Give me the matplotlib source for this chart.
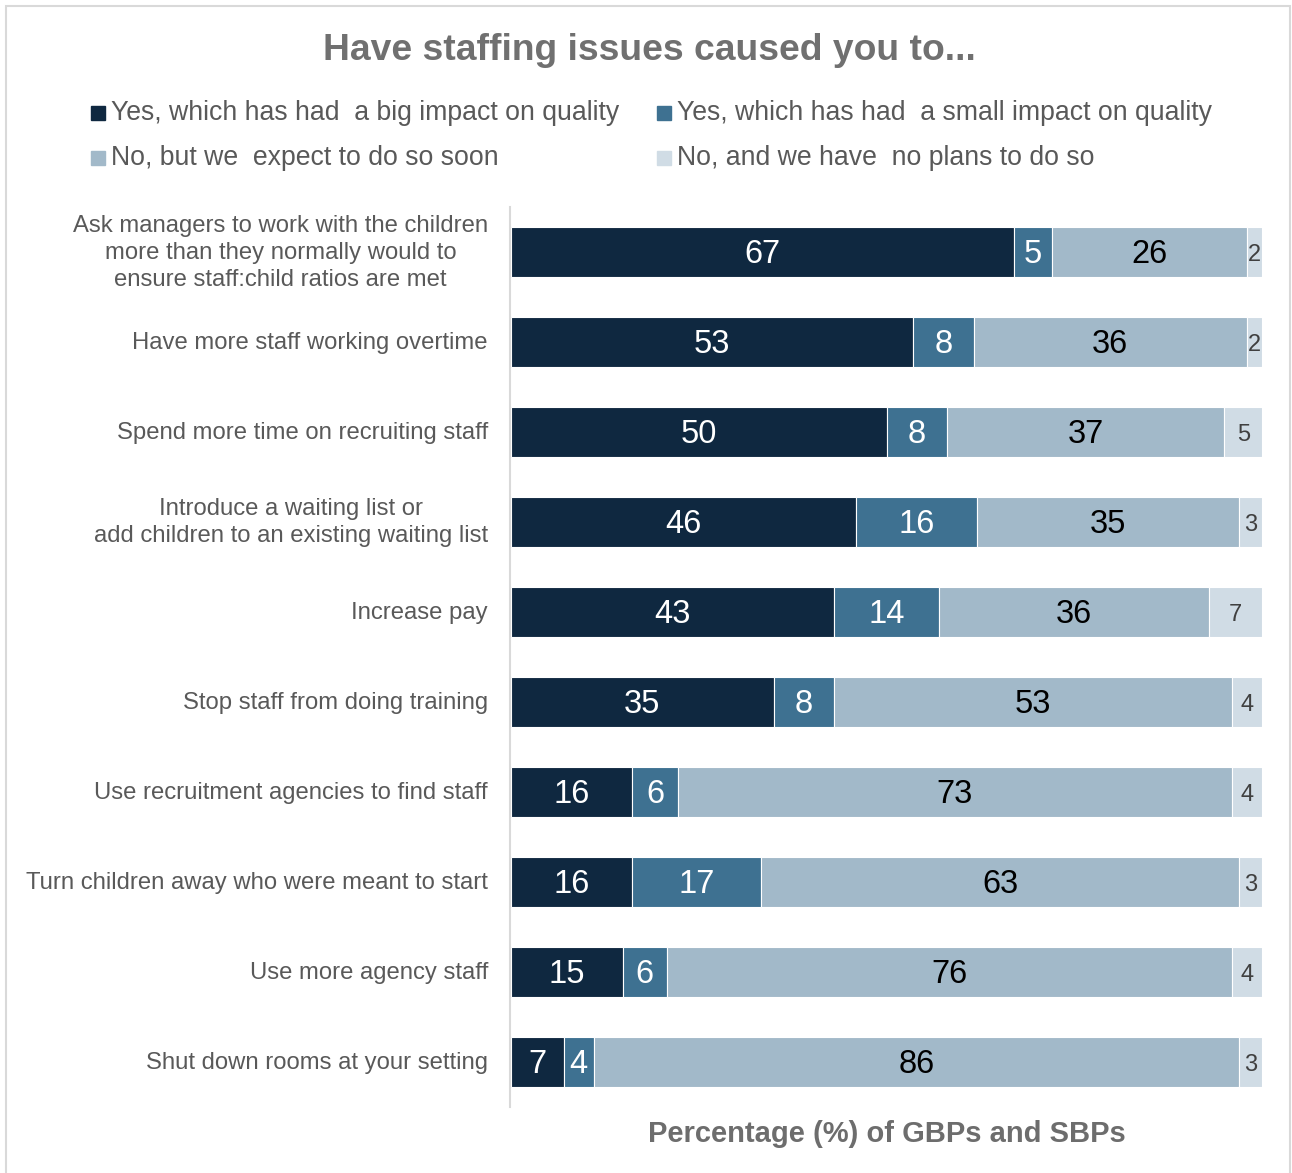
import numpy as np
import matplotlib.pyplot as plt
from matplotlib.patches import Rectangle

plt.rcParams['font.family'] = ['Liberation Sans', 'DejaVu Sans']

# Survey responses per action (percent of respondents)
categories = [
    "Ask managers to work with the children\nmore than they normally would to\nensure staff:child ratios are met",
    "Have more staff working overtime",
    "Spend more time on recruiting staff",
    "Introduce a waiting list or\nadd children to an existing waiting list",
    "Increase pay",
    "Stop staff from doing training",
    "Use recruitment agencies to find staff",
    "Turn children away who were meant to start",
    "Use more agency staff",
    "Shut down rooms at your setting",
]
yes_big = [67, 53, 50, 46, 43, 35, 16, 16, 15, 7]
yes_small = [5, 8, 8, 16, 14, 8, 6, 17, 6, 4]
no_soon = [26, 36, 37, 35, 36, 53, 73, 63, 76, 86]
no_plans = [2, 2, 5, 3, 7, 4, 4, 3, 4, 3]

series_names = [
    "Yes, which has had  a big impact on quality",
    "Yes, which has had  a small impact on quality",
    "No, but we  expect to do so soon",
    "No, and we have  no plans to do so",
]
colors = ["#0f2840", "#3e7191", "#a2b9c9", "#d0dce5"]
label_colors = ["white", "white", "black", "#404040"]

W, H = 1292, 1173
fig = plt.figure(figsize=(W / 100, H / 100), dpi=100)

# light frame round the chart
fig.patches.append(Rectangle((6 / W, -0.01), (1290 - 6) / W, (H - 6) / H + 0.01,
                             transform=fig.transFigure, fill=False,
                             edgecolor="#d9d9d9", linewidth=1.5))

ax = fig.add_axes([511 / W, (H - 1107) / H, 751 / W, 900 / H])

data = np.array([yes_big, yes_small, no_soon, no_plans], dtype=float)
shares = data / data.sum(axis=0) * 100  # each bar fills 100%
y = np.arange(len(categories))

left = np.zeros(len(categories))
for k in range(4):
    ax.barh(y, shares[k], left=left, height=0.56, color=colors[k],
            edgecolor="white", linewidth=0.8)
    for i in range(len(categories)):
        fs = 17 if k == 3 else 23.5
        ax.text(left[i] + shares[k][i] / 2, y[i] + 0.03, f"{int(data[k][i])}",
                ha="center", va="center", fontsize=fs, color=label_colors[k])
    left += shares[k]

ax.set_xlim(0, 100)
ax.set_ylim(len(categories) - 0.5, -0.5)
ax.set_xticks([])
ax.set_yticks([])

# category names, right-aligned block with centred lines
for yi, name in zip(y, categories):
    ax.text(-23 / 751, yi + 0.01, name, transform=ax.get_yaxis_transform(),
            ha="right", va="center", multialignment="center",
            fontsize=17.2, color="#595959", linespacing=1.3)

for s in ["top", "right", "bottom"]:
    ax.spines[s].set_visible(False)
ax.spines["left"].set_color("#d9d9d9")
ax.spines["left"].set_linewidth(1.5)
ax.spines["left"].set_position(("outward", 1))

ax.set_xlabel("Percentage (%) of GBPs and SBPs", fontsize=21,
              fontweight="bold", color="#6d6d6d", labelpad=9)

fig.text(649 / W, 1 - 51 / H, "Have staffing issues caused you to...",
         ha="center", va="center", fontsize=26.8, fontweight="bold",
         color="#707070")

# legend laid out in two columns
leg_pos = [(91, 113), (657, 113), (91, 158), (657, 158)]
for (px, py), name, c in zip(leg_pos, series_names, colors):
    fig.patches.append(Rectangle((px / W, 1 - (py + 7) / H), 14 / W, 14 / H,
                                 transform=fig.transFigure, color=c))
    fig.text((px + 20) / W, 1 - py / H, name, ha="left", va="center",
             fontsize=19.2, color="#595959")

fig.savefig("out.png", dpi=100)
